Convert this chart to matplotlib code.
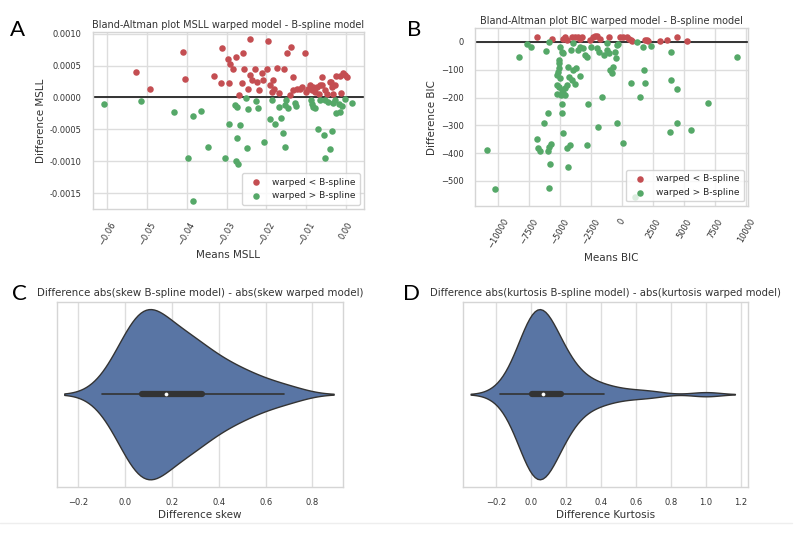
import matplotlib
matplotlib.use("Agg")
import matplotlib.pyplot as plt
import seaborn as sns
import numpy as np

# ---- panel A: Bland-Altman MSLL ----
msll_mean_lower = [-0.0528, -0.0493, -0.0410, -0.0404, -0.0332, -0.0314, -0.0312, -0.0296, -0.0291, -0.0293,
                   -0.0283, -0.0276, -0.0268, -0.0262, -0.0258, -0.0256, -0.0245, -0.0240, -0.0240, -0.0236,
                   -0.0229, -0.0224, -0.0218, -0.0212, -0.0208, -0.0199, -0.0195, -0.0191, -0.0187, -0.0184,
                   -0.0180, -0.0174, -0.0168, -0.0156, -0.0147, -0.0141, -0.0138, -0.0134, -0.0132, -0.0122,
                   -0.0116, -0.0111, -0.0104, -0.0101, -0.0095, -0.0090, -0.0086, -0.0082, -0.0078, -0.0074,
                   -0.0067, -0.0065, -0.0061, -0.0059, -0.0053, -0.0047, -0.0040, -0.0038, -0.0036, -0.0032,
                   -0.0028, -0.0025, -0.0015, -0.0013, -0.0008, -0.0002, 0.0002]
msll_diff_lower = [0.00040, 0.00014, 0.00071, 0.00029, 0.00033, 0.00022, 0.00077, 0.00060, 0.00053, 0.00023,
                   0.00045, 0.00064, 0.00004, 0.00022, 0.00070, 0.00044, 0.00014, 0.00091, 0.00035, 0.00028,
                   0.00045, 0.00024, 0.00011, 0.00039, 0.00027, 0.00045, 0.00089, 0.00019, 0.00009, 0.00027,
                   0.00013, 0.00046, 0.00007, 0.00044, 0.00069, 0.00004, 0.00079, 0.00032, 0.00011, 0.00014,
                   0.00014, 0.00016, 0.00070, 0.00009, 0.00014, 0.00019, 0.00011, 0.00017, 0.00009, 0.00016,
                   0.00006, 0.00019, 0.00019, 0.00032, 0.00011, 0.00005, 0.00024, 0.00024, 0.00016, 0.00006,
                   0.00019, 0.00033, 0.00033, 0.00007, 0.00039, 0.00035, 0.00032]
msll_mean_higher = [-0.0608, -0.0514, -0.0432, -0.0385, -0.0364, -0.0396, -0.0346, -0.0385, -0.0303, -0.0293,
                    -0.0279, -0.0273, -0.0266, -0.0273, -0.0275, -0.0272, -0.0250, -0.0246, -0.0248, -0.0226,
                    -0.0222, -0.0205, -0.0191, -0.0187, -0.0179, -0.0169, -0.0162, -0.0158, -0.0154, -0.0151,
                    -0.0152, -0.0146, -0.0128, -0.0126, -0.0089, -0.0086, -0.0082, -0.0078, -0.0070, -0.0055,
                    -0.0052, -0.0053, -0.0044, -0.0036, -0.0039, -0.0028, -0.0025, -0.0015, -0.0017, -0.0011,
                    -0.0003, 0.0014, -0.0032, -0.0065]
msll_diff_higher = [-0.00010, -0.00005, -0.00022, -0.00029, -0.00021, -0.00094, -0.00078, -0.00162, -0.00094, -0.00042,
                    -0.00011, -0.00015, -0.00043, -0.00063, -0.00099, -0.00104, -0.00001, -0.00018, -0.00079, -0.00005,
                    -0.00016, -0.00070, -0.00033, -0.00004, -0.00041, -0.00015, -0.00032, -0.00056, -0.00077, -0.00004,
                    -0.00012, -0.00016, -0.00009, -0.00014, -0.00004, -0.00010, -0.00015, -0.00017, -0.00049, -0.00059,
                    -0.00095, -0.00004, -0.00007, -0.00052, -0.00081, -0.00004, -0.00024, -0.00022, -0.00010, -0.00014,
                    -0.00002, -0.00008, -0.00009, -0.00004]

# ---- panel B: Bland-Altman BIC ----
bic_mean_lower = [-6825, -5670, -4729, -4595, -4460, -4057, -3788, -3519, -3251, -3385,
                  -2579, -2311, -2176, -1988, -1773, -1021, -161, 54, 430, 591,
                  699, 779, 1854, 1988, 2123, 3063, 3600, 4407, 5213]
bic_diff_lower = [18, 10, 10, 17, 7, 18, 17, 18, 19, 10,
                  7, 17, 22, 23, 10, 18, 19, 18, 17, 10,
                  7, 4, 8, 7, 2, 4, 7, 19, 2]
bic_mean_higher = [-10909, -10237, -8276, -7685, -7335, -6153, -5885, -6288, -5938, -6852,
                   -6745, -6610, -5938, -5858, -5750, -5831, -5858, -4863, -4863, -4729,
                   -4460, -4326, -4192, -4998, -4863, -4729, -5052, -5079, -5052, -5132,
                   -5213, -4998, -5267, -5052, -4863, -4729, -4595, -4460, -5267, -4917,
                   -4568, -4379, -4245, -4057, -3923, -3708, -3788, -3385, -3519, -3170,
                   -2982, -2848, -3385, -4138, -3923, -2714, -2848, -2526, -2042, -1961,
                   -1827, -1639, -1451, -1236, -1182, -1021, -967, -833, -699, -564,
                   -484, -376, -349, -430, 107, 699, 1182, 1451, 1720, 1774,
                   1854, 2311, 3923, 3923, 3869, 4407, 4407, 5535, 6959, 9243, 1048]
bic_diff_higher = [-387, -530, -56, -8, -19, -31, -2, -293, -254, -350,
                   -382, -391, -394, -379, -367, -439, -524, -257, -223, -329,
                   -382, -448, -370, -17, -35, -41, -65, -77, -95, -107,
                   -119, -131, -155, -163, -173, -182, -167, -155, -187, -191,
                   -191, -89, -125, -137, -101, -95, -151, -122, -29, -23,
                   -47, -53, -17, -29, -5, -223, -372, -17, -23, -307,
                   -35, -197, -47, -5, -29, -41, -101, -113, -89, -35,
                   -59, -11, -8, -293, -362, -146, -2, -197, -17, -101,
                   -149, -14, -38, -137, -323, -170, -290, -317, -218, -56, -559]

# ---- panel C / D: skew and kurtosis differences ----
skew_diff = [-0.10, -0.07, -0.045, -0.03, -0.02, -0.01,
             0.0, 0.01, 0.015, 0.02, 0.03, 0.035, 0.04, 0.045,
             0.05, 0.055, 0.06, 0.065, 0.07, 0.075, 0.08, 0.085, 0.09, 0.095,
             0.10, 0.105, 0.11, 0.115, 0.12, 0.13, 0.135, 0.14, 0.145,
             0.15, 0.155, 0.16, 0.17, 0.18, 0.185, 0.195,
             0.20, 0.21, 0.22, 0.23, 0.24, 0.245,
             0.25, 0.26, 0.27, 0.28, 0.29, 0.295,
             0.30, 0.31, 0.32, 0.33, 0.345,
             0.355, 0.365, 0.38, 0.395,
             0.41, 0.425, 0.44, 0.46, 0.475, 0.49,
             0.51, 0.54, 0.565, 0.59, 0.63, 0.68, 0.73]
kurt_diff = [-0.18, -0.13, -0.11, -0.095, -0.08, -0.07, -0.06,
             -0.048, -0.04, -0.035, -0.03, -0.025, -0.02, -0.015, -0.01, -0.006, -0.002,
             0.0, 0.004, 0.008, 0.012, 0.016, 0.02, 0.024, 0.028, 0.032, 0.036, 0.04, 0.043, 0.046, 0.049,
             0.052, 0.056, 0.06, 0.064, 0.068, 0.072, 0.076, 0.08, 0.085, 0.09, 0.094, 0.098,
             0.10, 0.107, 0.114, 0.12, 0.127, 0.134, 0.14, 0.146,
             0.155, 0.163, 0.17, 0.178, 0.186, 0.195,
             0.205, 0.22, 0.23, 0.245, 0.265, 0.29, 0.31, 0.34, 0.37, 0.42, 0.44,
             0.52, 0.60, 0.70, 1.0]

sns.set_theme(style="whitegrid", color_codes=True)
plt.rcParams['font.family'] = ['DejaVu Sans']

RED = "#c44e52"
GREEN = "#55a868"
W, H = 800, 534


def axes_px(fig, left, top, right, bottom):
    return fig.add_axes([left / W, 1 - bottom / H, (right - left) / W, (bottom - top) / H])


def style_axes(ax):
    for sp in ax.spines.values():
        sp.set_color("#d5d5d5")
        sp.set_linewidth(1.0)
    ax.grid(color="#dddddd", linewidth=1.0)
    ax.tick_params(labelsize=6.0, pad=2, colors="#333333")


def shrink_median_dot(ax):
    # seaborn sizes the median marker from the box width; the original has a tiny dot
    for line in ax.lines:
        if line.get_marker() == "o":
            line.set_markersize(2.2)
            line.set_markeredgewidth(0.5)


fig = plt.figure(figsize=(8, 5.34), dpi=100)

# A
axA = axes_px(fig, 92.7, 32.3, 364.3, 209.3)
axA.scatter(msll_mean_lower, msll_diff_lower, s=22, color=RED, linewidth=0, label="warped < B-spline", zorder=3)
axA.scatter(msll_mean_higher, msll_diff_higher, s=22, color=GREEN, linewidth=0, label="warped > B-spline", zorder=3)
axA.axhline(0, color="#333333", lw=1.4, zorder=2)
axA.set_xlim(-0.0636, 0.0046)
axA.set_ylim(-0.00175, 0.00102)
axA.set_xticks([-0.06, -0.05, -0.04, -0.03, -0.02, -0.01, 0.0])
axA.set_yticks([-0.0015, -0.0010, -0.0005, 0.0, 0.0005, 0.0010])
axA.set_yticklabels(["%.4f" % v for v in [-0.0015, -0.0010, -0.0005, 0.0, 0.0005, 0.0010]])
plt.setp(axA.get_xticklabels(), rotation=60)
axA.set_title("Bland-Altman plot MSLL warped model - B-spline model", fontsize=7.0, pad=3, color="#333333")
axA.set_xlabel("Means MSLL", fontsize=7.5, color="#333333", labelpad=2)
axA.set_ylabel("Difference MSLL", fontsize=7.5, color="#333333", labelpad=3)
style_axes(axA)
axA.legend(loc="lower right", fontsize=6.5, handletextpad=0.8, borderpad=0.5, markerscale=1.0)

# B
axB = axes_px(fig, 475, 28.3, 748.3, 206)
axB.scatter(bic_mean_lower, bic_diff_lower, s=22, color=RED, linewidth=0, label="warped < B-spline", zorder=3)
axB.scatter(bic_mean_higher, bic_diff_higher, s=22, color=GREEN, linewidth=0, label="warped > B-spline", zorder=3)
axB.axhline(0, color="#333333", lw=1.4, zorder=2)
axB.set_xlim(-11855, 10185)
axB.set_ylim(-590, 49)
axB.set_xticks([-10000, -7500, -5000, -2500, 0, 2500, 5000, 7500, 10000])
axB.set_yticks([-500, -400, -300, -200, -100, 0])
plt.setp(axB.get_xticklabels(), rotation=60)
axB.set_title("Bland-Altman plot BIC warped model - B-spline model", fontsize=7.0, pad=3, color="#333333")
axB.set_xlabel("Means BIC", fontsize=7.5, color="#333333", labelpad=2)
axB.set_ylabel("Difference BIC", fontsize=7.5, color="#333333", labelpad=3)
style_axes(axB)
axB.legend(loc="lower right", fontsize=6.5, handletextpad=0.8, borderpad=0.5)

violin_inner = dict(box_width=4.5, whis_width=1.2, marker="o")

# C
axC = axes_px(fig, 56.7, 301.7, 343.3, 486.7)
sns.violinplot(x=skew_diff, ax=axC, color="#4c72b0", width=0.92, linewidth=1.0, linecolor="#333333",
               inner_kws=violin_inner)
shrink_median_dot(axC)
axC.set_xlim(-0.293, 0.932)
axC.set_title("Difference abs(skew B-spline model) - abs(skew warped model)", fontsize=7.4, pad=4, color="#333333")
axC.set_xlabel("Difference skew", fontsize=7.5, color="#333333", labelpad=2)
style_axes(axC)
axC.yaxis.grid(False)

# D
axD = axes_px(fig, 463.3, 301.7, 748.3, 486.7)
sns.violinplot(x=kurt_diff, ax=axD, color="#4c72b0", width=0.92, linewidth=1.0, linecolor="#333333",
               inner_kws=violin_inner)
shrink_median_dot(axD)
axD.set_xlim(-0.387, 1.242)
axD.set_xticks([-0.2, 0.0, 0.2, 0.4, 0.6, 0.8, 1.0, 1.2])
axD.set_title("Difference abs(kurtosis B-spline model) - abs(kurtosis warped model)", fontsize=7.3, pad=4, color="#333333")
axD.set_xlabel("Difference Kurtosis", fontsize=7.5, color="#333333", labelpad=2)
style_axes(axD)
axD.yaxis.grid(False)

# panel letters
for letter, x, y in [("A", 18, 30), ("B", 414, 30), ("C", 19, 294), ("D", 411, 294)]:
    fig.text(x / W, 1 - y / H, letter, fontsize=16, family="Lato", ha="center", va="center", color="black")

# faint separator at the bottom
fig.add_artist(plt.Line2D([0.0, 0.99], [1 - 523 / H, 1 - 523 / H], color="#eeeeee", lw=1))

fig.savefig("out.png", dpi=100, facecolor="white")
